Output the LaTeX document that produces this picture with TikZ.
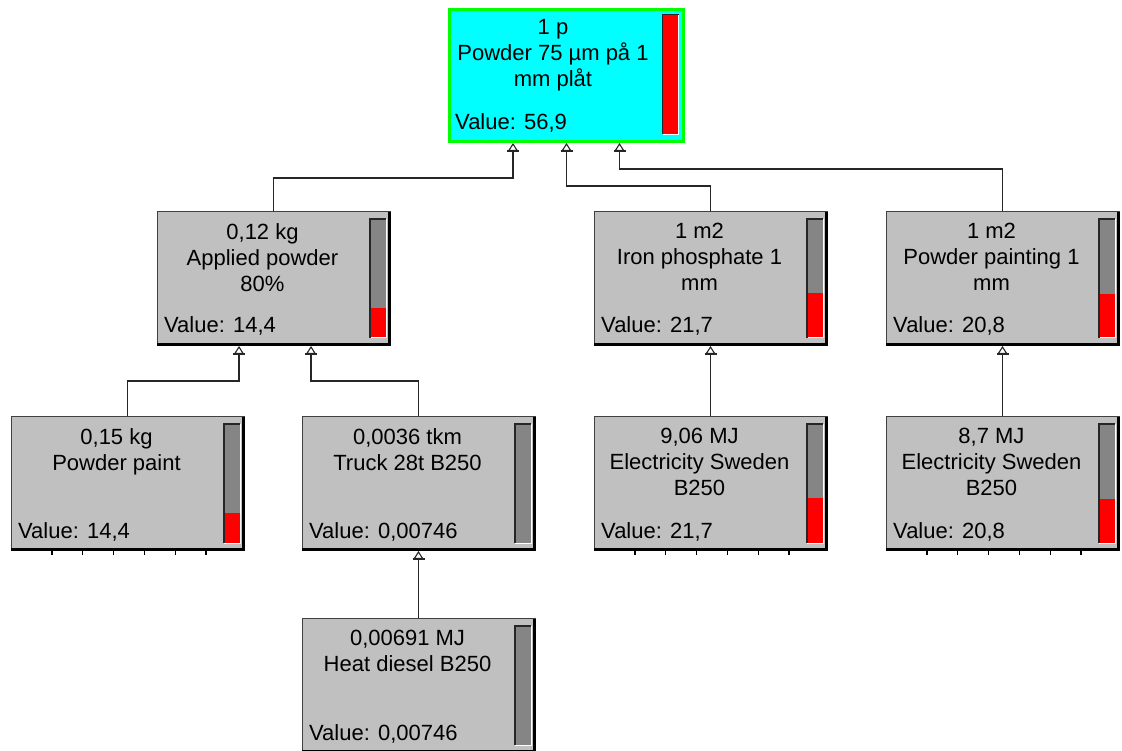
\documentclass[tikz,border=0pt]{standalone}
\usepackage{fontspec}
\setmainfont{Liberation Sans}
\usetikzlibrary{arrows.meta,calc}
\definecolor{boxgray}{HTML}{C0C0C0}
\definecolor{bargray}{HTML}{858585}
\definecolor{edgegray}{HTML}{404040}
\definecolor{topcyan}{HTML}{00FFFF}
\definecolor{topgreen}{HTML}{00FF00}
\definecolor{barred}{HTML}{FF0000}
\tikzset{
  pbx/.style={fill=boxgray, draw=edgegray, line width=0.8pt, inner sep=0pt, outer sep=0pt,
              minimum width=233pt, minimum height=134pt},
  topbx/.style={fill=topcyan, draw=topgreen, line width=3pt, inner sep=0pt, outer sep=0pt,
              minimum width=234pt, minimum height=132pt},
  lbl/.style={font=\fontsize{22}{26}\selectfont, align=center, inner sep=0pt, text=black},
  conn/.style={draw=black!85, line width=1.1pt, -{Triangle[open,width=10pt,length=8pt]}},
  basebar/.style={draw=black!85, line width=1.1pt},
  tickmark/.style={draw=black, line width=1.2pt},
  shadowline/.style={draw=black, line width=2.5pt},
}
\newcommand\pbox[6]{% name, left, top, red fraction, lines, value
  \node[pbx, anchor=north west] (#1) at (#2,#3) {};
  \draw[shadowline] ([xshift=-0.5pt,yshift=-1pt]#1.north east) -- ([xshift=-0.5pt,yshift=0.5pt]#1.south east) -- ([yshift=0.5pt]#1.south west);
  \coordinate (#1-bl) at ([xshift=-20pt,yshift=7pt]#1.south east);
  \coordinate (#1-tr) at ([xshift=-4pt,yshift=-8pt]#1.north east);
  \coordinate (#1-tl) at (#1-bl |- #1-tr);
  \fill[bargray] (#1-bl) rectangle (#1-tr);
  \fill[barred] (#1-bl) rectangle ($(#1-bl)!#4!(#1-tl) + (16pt,0pt)$);
  \draw[white, line width=1pt] (#1-bl) -| (#1-tr);
  \draw[black!85, line width=1.2pt] (#1-bl) |- (#1-tr);
  \node[lbl, anchor=north] (#1-t) at ($(#1.north)+(-11pt,-12pt)$) {#5};
  \node[lbl, anchor=base west] (#1-v) at ($(#1.south west)+(7pt,12pt)$) {Value: #6};
}
\begin{document}
\begin{tikzpicture}[x=1pt, y=-1pt]
  \fill[white] (0,0) rectangle (1122,751);
  \useasboundingbox (0,0) rectangle (1122,751);

  % top box
  \node[topbx, anchor=north west] (top) at (449.5,9.5) {};
  \coordinate (top-bl) at ([xshift=-21pt,yshift=7pt]top.south east);
  \coordinate (top-tr) at ([xshift=-5pt,yshift=-5pt]top.north east);
  \fill[barred] (top-bl) rectangle (top-tr);
  \draw[white, line width=1pt] (top-bl) -| (top-tr);
  \draw[black!85, line width=1.2pt] (top-bl) |- (top-tr);
  \node[lbl, anchor=north] (top-t) at ($(top.north)+(-13.5pt,-9.5pt)$) {1 p\\Powder 75 µm på 1\\mm plåt};
  \node[lbl, anchor=base west] (top-v) at ($(top.south west)+(5.5pt,11.5pt)$) {Value: 56,9};

  % second row
  \pbox{ap}{157}{211}{0.253}{0,12 kg\\Applied powder\\80\%}{14,4}
  \pbox{ip}{594}{211}{0.381}{1 m2\\Iron phosphate 1\\mm}{21,7}
  \pbox{pp}{886}{211}{0.366}{1 m2\\Powder painting 1\\mm}{20,8}

  % third row
  \pbox{paint}{11}{416}{0.253}{0,15 kg\\Powder paint}{14,4}
  \pbox{truck}{302}{416}{0}{0,0036 tkm\\Truck 28t B250}{0,00746}
  \pbox{el1}{594}{416}{0.381}{9,06 MJ\\Electricity Sweden\\B250}{21,7}
  \pbox{el2}{886}{416}{0.366}{8,7 MJ\\Electricity Sweden\\B250}{20,8}

  % fourth row
  \pbox{heat}{302}{618}{0}{0,00691 MJ\\Heat diesel B250}{0,00746}

  % tick marks
  \foreach \b in {paint,el1,el2}{
    \foreach \k in {0,...,5}{
      \draw[tickmark] ([xshift={41pt+30.8pt*\k}]\b.south west) -- ++(0,5);
    }
  }

  % arrival points
  \coordinate (t1) at ([xshift=-53.5pt,yshift=-1.5pt]top.south);
  \coordinate (t2) at ([yshift=-1.5pt]top.south);
  \coordinate (t3) at ([xshift=53pt,yshift=-1.5pt]top.south);
  \coordinate (a1) at ([xshift=-34.5pt,yshift=-1pt]ap.south);
  \coordinate (a2) at ([xshift=37.5pt,yshift=-1pt]ap.south);
  \coordinate (a3) at ([yshift=-1pt]ip.south);
  \coordinate (a4) at ([yshift=-1pt]pp.south);
  \coordinate (a5) at ([yshift=-1pt]truck.south);

  % connectors
  \draw[conn] (ap.north) -- ++(0,-33) -| (t1);
  \draw[conn] (ip.north) -- ++(0,-25) -| (t2);
  \draw[conn] (pp.north) -- ++(0,-42) -| (t3);
  \draw[conn] (paint.north) -- ++(0,-35) -| (a1);
  \draw[conn] (truck.north) -- ++(0,-35) -| (a2);
  \draw[conn] (el1.north) -- (a3);
  \draw[conn] (el2.north) -- (a4);
  \draw[conn] (heat.north) -- (a5);

  % base bars under the arrowheads
  \foreach \c in {t1,t2,t3,a1,a2,a3,a4,a5}{
    \draw[basebar] ([xshift=-6pt,yshift=-8pt]\c) -- ([xshift=6pt,yshift=-8pt]\c);
  }
\end{tikzpicture}
\end{document}
